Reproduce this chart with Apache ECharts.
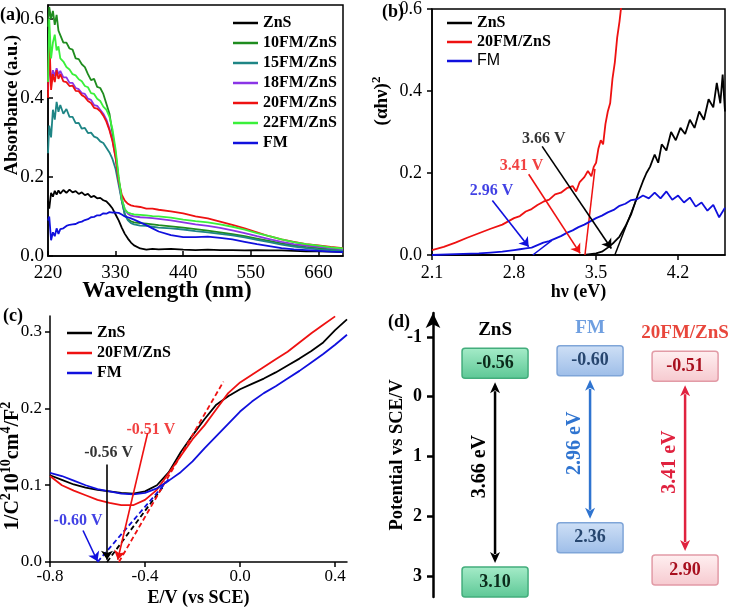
<!DOCTYPE html>
<html><head><meta charset="utf-8">
<script src="https://cdn.jsdelivr.net/npm/echarts@6/dist/echarts.min.js"></script>
<style>html,body{margin:0;padding:0;background:#fff}#c{width:732px;height:608px}</style>
</head><body><div id="c"></div>
<script>
// ---------- Panel (a): UV-vis absorbance ----------
const wl = [220,222,225,228,231,234,237,240,245,250,255,260,265,270,275,280,285,290,295,300,305,310,315,320,325,330,335,340,345,350,355,360,370,380,390,400,420,440,460,480,500,520,540,560,580,600,620,640,660,680,700];
const absZnS = [0.14,0.12,0.16,0.15,0.165,0.155,0.166,0.158,0.167,0.16,0.168,0.161,0.164,0.157,0.161,0.154,0.157,0.149,0.152,0.146,0.147,0.141,0.138,0.13,0.12,0.105,0.09,0.072,0.056,0.044,0.034,0.027,0.019,0.016,0.018,0.017,0.018,0.016,0.015,0.016,0.015,0.015,0.014,0.015,0.014,0.014,0.013,0.012,0.012,0.011,0.01];
const abs10 = [0.58,0.63,0.60,0.62,0.585,0.61,0.57,0.565,0.54,0.54,0.525,0.522,0.5,0.498,0.485,0.478,0.46,0.445,0.448,0.428,0.425,0.41,0.385,0.36,0.31,0.26,0.195,0.14,0.105,0.093,0.088,0.085,0.083,0.082,0.08,0.078,0.075,0.072,0.068,0.064,0.06,0.055,0.05,0.044,0.038,0.032,0.027,0.023,0.02,0.017,0.015];
const abs15 = [0.26,0.33,0.30,0.37,0.345,0.39,0.365,0.382,0.36,0.372,0.352,0.352,0.336,0.337,0.322,0.324,0.311,0.312,0.302,0.299,0.29,0.286,0.274,0.262,0.245,0.22,0.18,0.14,0.105,0.09,0.083,0.08,0.077,0.076,0.074,0.072,0.07,0.067,0.063,0.06,0.056,0.052,0.047,0.041,0.035,0.029,0.024,0.02,0.017,0.015,0.013];
const abs18 = [0.42,0.50,0.44,0.47,0.455,0.475,0.46,0.468,0.452,0.452,0.438,0.438,0.425,0.422,0.412,0.41,0.398,0.395,0.382,0.38,0.37,0.36,0.345,0.322,0.292,0.25,0.19,0.145,0.118,0.107,0.102,0.1,0.098,0.097,0.096,0.094,0.09,0.085,0.08,0.076,0.071,0.065,0.058,0.05,0.043,0.036,0.03,0.026,0.023,0.02,0.017];
const abs20 = [0.40,0.56,0.42,0.46,0.44,0.47,0.448,0.46,0.442,0.44,0.43,0.431,0.418,0.417,0.407,0.402,0.392,0.387,0.375,0.373,0.366,0.355,0.34,0.318,0.29,0.248,0.19,0.155,0.14,0.132,0.128,0.126,0.124,0.12,0.12,0.117,0.113,0.108,0.1,0.095,0.087,0.079,0.07,0.06,0.05,0.042,0.036,0.03,0.027,0.023,0.02];
const abs22 = [0.44,0.60,0.50,0.54,0.56,0.52,0.53,0.50,0.492,0.478,0.472,0.46,0.457,0.447,0.442,0.43,0.427,0.412,0.41,0.398,0.392,0.378,0.37,0.352,0.32,0.27,0.2,0.145,0.118,0.11,0.107,0.105,0.104,0.103,0.101,0.1,0.097,0.092,0.088,0.085,0.08,0.074,0.067,0.058,0.05,0.042,0.035,0.03,0.026,0.022,0.019];
const absFM = [0.09,0.10,0.04,0.06,0.05,0.07,0.056,0.068,0.07,0.076,0.079,0.08,0.081,0.085,0.087,0.091,0.093,0.098,0.099,0.103,0.103,0.108,0.107,0.111,0.11,0.11,0.109,0.105,0.1,0.098,0.095,0.092,0.085,0.078,0.07,0.062,0.053,0.048,0.048,0.049,0.046,0.042,0.036,0.03,0.025,0.02,0.017,0.015,0.013,0.011,0.01];
const aNames = ['ZnS','10FM/ZnS','15FM/ZnS','18FM/ZnS','20FM/ZnS','22FM/ZnS','FM'];
const aSeries = [absZnS,abs10,abs15,abs18,abs20,abs22,absFM];
const aXTicks = [220,330,440,550,660];
const aYTicks = [0,0.2,0.4,0.6];

// ---------- Panel (b): Tauc plot ----------
const tZnS = [[2.1,0],[3.4,0],[3.5,0.004],[3.55,0.008],[3.6,0.018],[3.65,0.03],[3.7,0.045],[3.75,0.07],[3.8,0.1],[3.83,0.125],[3.86,0.15],[3.9,0.18],[3.93,0.2],[3.96,0.215],[4.0,0.245],[4.03,0.225],[4.06,0.27],[4.1,0.255],[4.14,0.3],[4.18,0.28],[4.22,0.31],[4.26,0.295],[4.3,0.33],[4.34,0.31],[4.38,0.35],[4.42,0.33],[4.46,0.38],[4.5,0.36],[4.53,0.42],[4.56,0.37],[4.58,0.44],[4.6,0.35]];
const t20 = [[2.1,0.012],[2.2,0.02],[2.3,0.03],[2.4,0.042],[2.5,0.053],[2.6,0.064],[2.7,0.074],[2.8,0.09],[2.85,0.095],[2.9,0.106],[2.95,0.112],[3.0,0.122],[3.05,0.13],[3.1,0.135],[3.15,0.148],[3.2,0.152],[3.25,0.163],[3.3,0.168],[3.33,0.155],[3.36,0.178],[3.4,0.19],[3.43,0.205],[3.46,0.192],[3.48,0.215],[3.5,0.225],[3.52,0.26],[3.54,0.28],[3.56,0.27],[3.58,0.32],[3.6,0.35],[3.62,0.37],[3.64,0.43],[3.66,0.47],[3.68,0.53],[3.7,0.57],[3.72,0.62]];
const tFM = [[2.1,0],[2.3,0.002],[2.5,0.004],[2.6,0.006],[2.7,0.008],[2.8,0.012],[2.85,0.014],[2.9,0.016],[2.95,0.018],[3.0,0.024],[3.05,0.03],[3.1,0.034],[3.15,0.04],[3.2,0.046],[3.25,0.054],[3.3,0.06],[3.35,0.068],[3.4,0.074],[3.45,0.082],[3.5,0.09],[3.55,0.096],[3.6,0.104],[3.65,0.11],[3.7,0.12],[3.75,0.125],[3.8,0.134],[3.85,0.136],[3.9,0.145],[3.95,0.138],[4.0,0.152],[4.05,0.138],[4.1,0.155],[4.15,0.135],[4.2,0.145],[4.25,0.128],[4.3,0.14],[4.35,0.118],[4.4,0.128],[4.45,0.108],[4.5,0.122],[4.55,0.092],[4.6,0.115]];
const bTan = {ZnS:[[3.66,0],[3.85,0.14]], '20FM/ZnS':[[3.405,0],[3.49,0.21]], FM:[[2.96,0],[3.12,0.035]]};
const bArrows = [ // [label, color, labelPos, from, to]
  ['2.96 V','#1010dd',[2.607,0.157],[2.615,0.133],[2.925,0.02]],
  ['3.41 V','#ee1111',[2.863,0.217],[2.925,0.197],[3.364,0.004]],
  ['3.66 V','#000000',[3.054,0.284],[3.04,0.265],[3.63,0.016]]
];
const bXTicks = [2.1,2.8,3.5,4.2];
const bYTicks = [0,0.2,0.4,0.6];

// ---------- Panel (c): Mott-Schottky ----------
const msE = [-0.8,-0.75,-0.7,-0.65,-0.6,-0.55,-0.5,-0.45,-0.4,-0.35,-0.3,-0.25,-0.2,-0.15,-0.1,-0.05,0,0.05,0.1,0.15,0.2,0.25,0.3,0.35,0.4,0.45];
const msZnS = [0.113,0.107,0.101,0.097,0.094,0.092,0.09,0.089,0.092,0.1,0.117,0.143,0.165,0.186,0.205,0.216,0.225,0.232,0.239,0.247,0.256,0.265,0.275,0.286,0.302,0.316];
const ms20 = [0.112,0.1,0.093,0.087,0.081,0.077,0.074,0.074,0.081,0.094,0.116,0.138,0.16,0.178,0.199,0.22,0.234,0.244,0.254,0.264,0.274,0.286,0.298,0.309,0.32,null];
const msFM = [0.116,0.112,0.106,0.1,0.095,0.092,0.089,0.088,0.09,0.096,0.106,0.117,0.131,0.148,0.164,0.18,0.196,0.209,0.22,0.229,0.239,0.249,0.26,0.271,0.283,0.296];
const cTan = {ZnS:[[-0.56,0],[-0.32,0.1]], '20FM/ZnS':[[-0.51,0],[-0.07,0.235]], FM:[[-0.6,0],[-0.3,0.108]]};
const cArrows = [
  ['-0.56 V','#000000',[-0.553,0.142],[-0.56,0.127],[-0.56,0.003]],
  ['-0.51 V','#ee1111',[-0.375,0.172],[-0.389,0.168],[-0.515,0.003]],
  ['-0.60 V','#1010dd',[-0.682,0.053],[-0.661,0.041],[-0.60,0.001]]
];
const cXTicks = [-0.8,-0.4,0,0.4];
const cYTicks = [0,0.1,0.2,0.3];

// ---------- Panel (d): band positions ----------
const dNames = ['ZnS','FM','20FM/ZnS'];
const dCB = [-0.56,-0.60,-0.51];
const dVB = [3.10,2.36,2.90];
const dGap = ['3.66 eV','2.96 eV','3.41 eV'];
const dYTicks = [-1,0,1,2,3];

// ---------- styling ----------
const SERIF = '"Liberation Serif", "Times New Roman", serif';
const SANS = '"Liberation Sans", Arial, sans-serif';
const col = {'ZnS':'#000000','10FM/ZnS':'#1f8c1f','15FM/ZnS':'#1e8585','18FM/ZnS':'#8a35e6','20FM/ZnS':'#ee1111','22FM/ZnS':'#3af03a','FM':'#1010dd'};
const dStyle = [
  {title:'#000000', top:'#a6ecc9', bot:'#5cc795', border:'#43ad7c', txt:'#0b2b1b', arrow:'#000000'},
  {title:'#6f9fe0', top:'#cfe0f6', bot:'#9dbde8', border:'#7fa5d8', txt:'#27466f', arrow:'#2f74d0'},
  {title:'#e8473c', top:'#fff0f1', bot:'#f6c9cf', border:'#e29ba6', txt:'#a8101f', arrow:'#e0223f'}
];

function fmt1(v){ return v.toFixed(1); }
function ax(gi, min, max, ticks, inside, name, nameGap, nameSize, labSize, margin, fmt){
  return {gridIndex:gi, type:'value', min, max, name, nameLocation:'middle', nameGap,
    nameTextStyle:{fontFamily:SERIF, fontWeight:'bold', fontSize:nameSize, color:'#000'},
    axisLine:{onZero:false, lineStyle:{color:'#000', width:1.5}},
    axisTick:{inside, length:5, customValues:ticks, lineStyle:{color:'#000', width:1.5}},
    axisLabel:{customValues:ticks, fontFamily:SERIF, fontSize:labSize, color:'#000', margin, formatter:fmt},
    splitLine:{show:false}};
}

const series = [];
aNames.forEach((n,k)=>{
  series.push({type:'line', name:n, xAxisIndex:0, yAxisIndex:0, showSymbol:false, symbol:'none',
    data: wl.map((w,i)=>[w, aSeries[k][i]]), lineStyle:{color:col[n], width:1.8}, itemStyle:{color:col[n]}, z:2+k});
});
[['ZnS',tZnS],['20FM/ZnS',t20],['FM',tFM]].forEach(([n,d])=>{
  series.push({type:'line', name:n, xAxisIndex:1, yAxisIndex:1, symbol:'none', data:d, clip:true,
    lineStyle:{color:col[n], width:1.8}, itemStyle:{color:col[n]}});
  series.push({type:'line', xAxisIndex:1, yAxisIndex:1, symbol:'none', data:bTan[n], lineStyle:{color:col[n], width:1.5}});
});
function arrowSeries(xi, arr){
  arr.forEach(([lab,c,lp,from,to])=>{
    series.push({type:'lines', coordinateSystem:'cartesian2d', xAxisIndex:xi, yAxisIndex:xi, symbol:['none','arrow'], symbolSize:9,
      lineStyle:{color:c, width:1.6, opacity:1}, data:[{coords:[from,to]}], z:10});
    series.push({type:'scatter', xAxisIndex:xi, yAxisIndex:xi, symbolSize:0, data:[lp], z:11,
      label:{show:true, position:'inside', formatter:lab, color:c, fontFamily:SERIF, fontWeight:'bold', fontSize:16}});
  });
}
arrowSeries(1, bArrows);
[['ZnS',msZnS],['20FM/ZnS',ms20],['FM',msFM]].forEach(([n,d])=>{
  series.push({type:'line', name:n, xAxisIndex:2, yAxisIndex:2, symbol:'none', data: msE.map((e,i)=>[e,d[i]]),
    lineStyle:{color:col[n], width:1.8}, itemStyle:{color:col[n]}});
  series.push({type:'line', xAxisIndex:2, yAxisIndex:2, symbol:'none', data:cTan[n], lineStyle:{color:col[n], width:1.8, type:[5,3]}});
});
arrowSeries(2, cArrows);

series.push({type:'custom', xAxisIndex:3, yAxisIndex:3, clip:false,
  data: dNames.map((n,i)=>[i, dCB[i], dVB[i]]),
  renderItem:(params, api)=>{
    const i = api.value(0);
    const s = dStyle[i];
    const x = api.coord([i, 0])[0];
    const y1 = api.coord([i, api.value(1)])[1];
    const y2 = api.coord([i, api.value(2)])[1];
    const w = 66, h = 30;
    const grad = {type:'linear', x:0, y:0, x2:0, y2:1, colorStops:[{offset:0,color:s.top},{offset:1,color:s.bot}]};
    const box = (yc, txt)=>[
      {type:'rect', shape:{x:x-w/2, y:yc-h/2, width:w, height:h, r:3}, style:{fill:grad, stroke:s.border, lineWidth:1.5}},
      {type:'text', x:x, y:yc, style:{text:txt, align:'center', verticalAlign:'middle', fill:s.txt, font:'bold 18px '+SERIF}}
    ];
    const a1 = y1 + h/2 + 4, a2 = y2 - h/2 - 4;
    const hw = 5, hl = 11;
    return {type:'group', children:[
      {type:'text', x:x, y:y1-33, style:{text:dNames[i], align:'center', verticalAlign:'middle', fill:s.title, font:'bold 19px '+SERIF}},
      ...box(y1, api.value(1).toFixed(2)),
      ...box(y2, api.value(2).toFixed(2)),
      {type:'line', shape:{x1:x, y1:a1+hl-2, x2:x, y2:a2-hl+2}, style:{stroke:s.arrow, lineWidth:2.5}},
      {type:'polygon', shape:{points:[[x,a1],[x-hw,a1+hl],[x,a1+hl-3],[x+hw,a1+hl]]}, style:{fill:s.arrow}},
      {type:'polygon', shape:{points:[[x,a2],[x-hw,a2-hl],[x,a2-hl+3],[x+hw,a2-hl]]}, style:{fill:s.arrow}},
      {type:'text', x:x-15, y:(a1+a2)/2-6, rotation:Math.PI/2, style:{text:dGap[i], align:'center', verticalAlign:'middle', fill:s.arrow, font:'bold 20px '+SERIF}}
    ]};
  }
});

const legendBase = {orient:'vertical', icon:'rect', itemWidth:25, itemHeight:2.5, itemGap:4, selectedMode:false,
  textStyle:{fontFamily:SERIF, fontWeight:'bold', fontSize:16, color:'#000'}};

const option = {
  animation:false,
  backgroundColor:'#fff',
  grid:[
    {left:48, top:5, width:295, height:251, show:true, borderColor:'#000', borderWidth:1.5},
    {left:432, top:6, width:293, height:249, show:true, borderColor:'#000', borderWidth:1.5},
    {left:50, top:316, width:297, height:250},
    {left:433, top:313, width:292, height:284}
  ],
  xAxis:[
    ax(0,220,700,aXTicks,true,'',16,24,19,8,null),
    ax(1,2.1,4.6,bXTicks,false,'hν (eV)',17,18,18,9,fmt1),
    ax(2,-0.8,0.45,cXTicks,false,'E/V (vs SCE)',27,18,17,6,fmt1),
    {gridIndex:3, type:'value', min:-0.653, max:2.42, show:false}
  ],
  yAxis:[
    ax(0,0,0.635,aYTicks,true,'',27,20,19,4,fmt1),
    ax(1,0,0.6,bYTicks,false,'',40,18,18,10,fmt1),
    ax(2,0,0.3205,cYTicks,false,'',31,18,17,8,fmt1),
    {gridIndex:3, type:'value', min:-1.4, max:3.35, inverse:true, name:'Potential vs SCE/V', nameLocation:'middle', nameGap:26,
      nameMoveOverlap:false,
      nameTextStyle:{fontFamily:SERIF, fontWeight:'bold', fontSize:18.5, color:'#000'},
      axisLine:{onZero:false, lineStyle:{color:'#000', width:2.5}, symbol:['none','arrow'], symbolSize:[11,15]},
      axisTick:{length:6, customValues:dYTicks, lineStyle:{color:'#000', width:2.5}},
      axisLabel:{customValues:dYTicks, fontFamily:SERIF, fontWeight:'bold', fontSize:18, color:'#000', margin:11},
      splitLine:{show:false}}
  ],
  legend:[
    Object.assign({}, legendBase, {left:228, top:10, data:aNames}),
    Object.assign({}, legendBase, {left:442, top:10, itemGap:3, data:['ZnS','20FM/ZnS',{name:'FM', textStyle:{fontFamily:SANS, fontWeight:'normal', fontSize:16}}]}),
    Object.assign({}, legendBase, {left:62, top:320, data:['ZnS','20FM/ZnS','FM']})
  ],
  graphic:[
    {type:'text', left:0, top:6, style:{text:'(a)', font:'bold 18px '+SERIF, fill:'#000'}},
    {type:'text', left:382, top:3, style:{text:'(b)', font:'bold 18px '+SERIF, fill:'#000'}},
    {type:'text', left:3, top:307, style:{text:'(c)', font:'bold 18px '+SERIF, fill:'#000'}},
    {type:'text', left:388, top:313, style:{text:'(d)', font:'bold 18px '+SERIF, fill:'#000'}},
    {type:'text', x:167, y:291, style:{text:'Wavelength (nm)', align:'center', verticalAlign:'middle', font:'bold 23px '+SERIF, fill:'#000'}},
    {type:'text', x:12, y:105, rotation:Math.PI/2, style:{text:'Absorbance (a.u.)', align:'center', verticalAlign:'middle', font:'bold 18.5px '+SERIF, fill:'#000'}},
    {type:'text', x:381, y:101, rotation:Math.PI/2,
      style:{text:'{n|(αhν)}{s|2}', align:'center', verticalAlign:'middle',
        rich:{n:{fontFamily:SERIF, fontWeight:'bold', fontSize:19, fill:'#000', verticalAlign:'bottom', lineHeight:22},
              s:{fontFamily:SERIF, fontWeight:'bold', fontSize:13, fill:'#000', verticalAlign:'top', lineHeight:22}}}},
    {type:'text', x:11, y:466, rotation:Math.PI/2,
      style:{text:'{n|1/C}{s|2}{n|10}{s|10}{n|cm}{s|4}{n|/F}{s|2}', align:'center', verticalAlign:'middle',
        rich:{n:{fontFamily:SERIF, fontWeight:'bold', fontSize:20, fill:'#000', verticalAlign:'bottom', lineHeight:23},
              s:{fontFamily:SERIF, fontWeight:'bold', fontSize:14, fill:'#000', verticalAlign:'top', lineHeight:23}}}}
  ],
  series
};
const chart = echarts.init(document.getElementById('c'), null, {renderer:'canvas'});
chart.setOption(option);
</script></body></html>
